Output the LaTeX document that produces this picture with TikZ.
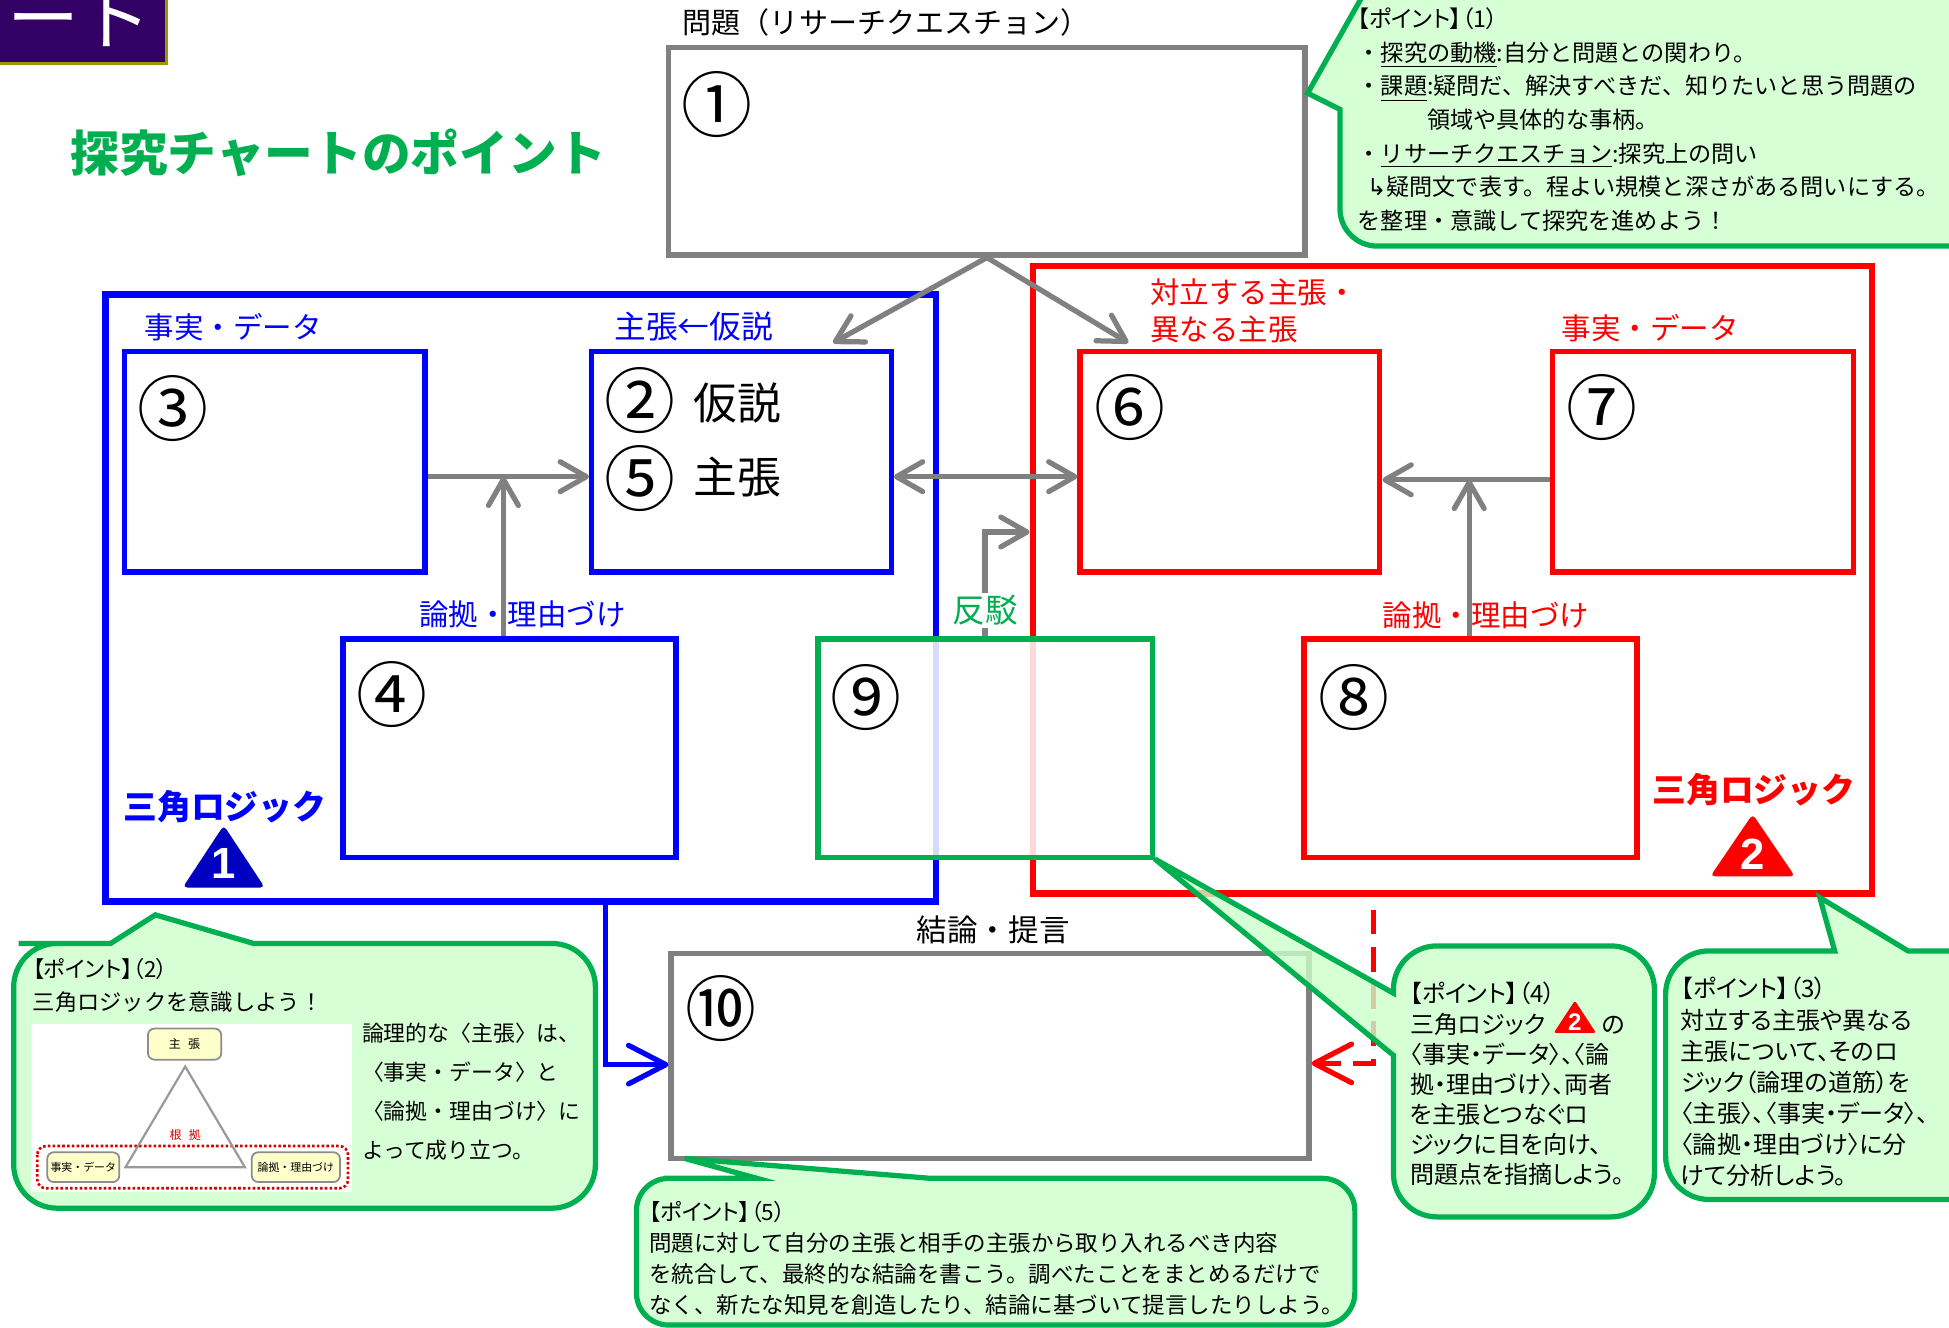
\documentclass[tikz,border=0pt]{standalone}
\usepackage{fontspec}
\setmainfont{Noto Sans CJK JP}
\newfontfamily\jpp[RawFeature=+palt]{Noto Sans CJK JP}
\newfontfamily\symf{DejaVu Sans}
\newfontfamily\arial{Liberation Sans}
\usetikzlibrary{arrows.meta,fit}

\definecolor{cgreen}{HTML}{00B050}
\definecolor{clight}{HTML}{CCFFCC}
\definecolor{cgray}{HTML}{808080}
\definecolor{cblue}{HTML}{0000FF}
\definecolor{cnavy}{HTML}{0000C0}
\definecolor{cred}{HTML}{FF0000}
\definecolor{cpurple}{HTML}{330066}
\definecolor{colive}{HTML}{999900}
\definecolor{cyellow}{HTML}{FFFFCC}

\newcommand\pt[1]{{\jpp 【ポイント】（#1）}}

\begin{document}
\begin{tikzpicture}[x=0.02cm,y=-0.02cm,
    box/.style={draw=#1,line width=2.5pt,inner sep=0pt},
    group/.style={draw=#1,line width=3.1pt,inner sep=0pt},
    num/.style={font=\fontsize{32.5}{33}\selectfont,inner sep=0pt},
    lbl/.style={font=\fontsize{13.5}{17}\selectfont,inner sep=0pt},
    logic/.style={font=\bfseries\fontsize{15.5}{18}\selectfont,inner sep=0pt},
    trinum/.style={font=\arial\bfseries\fontsize{#1}{#1}\selectfont,text=white,inner sep=0pt},
    garr/.style={draw=cgray,line width=2.4pt,-{Straight Barb[length=0.42cm,width=0.48cm,round]}},
    gdbl/.style={draw=cgray,line width=2.4pt,{Straight Barb[length=0.42cm,width=0.48cm,round]}-{Straight Barb[length=0.42cm,width=0.48cm,round]}},
    barr/.style={draw=cblue,line width=2.4pt,-{Straight Barb[length=0.6cm,width=0.62cm,round]}},
    rarr/.style={draw=cred,line width=2.4pt,dash pattern=on 0.4cm off 0.2cm,-{Straight Barb[length=0.6cm,width=0.62cm,round]}},
    bubble/.style={draw=cgreen,line width=2.4pt,fill=clight,fill opacity=0.8},
    note/.style={font=\fontsize{10.2}{#1}\selectfont,align=left,inner sep=0pt,anchor=north west},
    pnote/.style={font=\jpp\fontsize{11}{#1}\selectfont,align=left,inner sep=0pt,anchor=north west},
    inbox/.style={draw=black!45,fill=cyellow,rounded corners=3pt,line width=0.8pt,inner sep=1pt,font=\fontsize{5}{6}\selectfont}]
  \useasboundingbox (0,0) rectangle (1568,1068);
  \fill[white] (0,0) rectangle (1568,1068);

  % heading
  \node[fill=cpurple,draw=colive,line width=1.7pt,inner sep=0pt,fit={(-20,-20)(134,51)}] (tab) {};
  \node[text=white,font=\fontsize{33}{33}\selectfont,anchor=base west,inner sep=0pt] (tabTxt) at (6,36) {ート};
  \node[text=cgreen,font=\bfseries\fontsize{22.3}{26}\selectfont] (title) at (272,123) {探究チャートのポイント};

  % frames
  \node[box=cgray,fit={(538,38)(1050,205)}] (q) {};
  \node[group=cblue,fit={(85,237)(753,725)}] (grpA) {};
  \node[group=cred,fit={(831,214)(1506,719)}] (grpB) {};
  \node[box=cblue,fit={(100,283)(342,460)}] (dataA) {};
  \node[box=cblue,fit={(476,283)(717,460)}] (claimA) {};
  \node[box=cblue,fit={(276,514)(544,690)}] (warrA) {};
  \node[box=cred,fit={(869,283)(1110,460)}] (claimB) {};
  \node[box=cred,fit={(1249,283)(1491,460)}] (dataB) {};
  \node[box=cred,fit={(1049,514)(1317,690)}] (warrB) {};
  \node[box=cgreen,fill=white,fill opacity=0.85,fit={(658,514)(927,690)}] (rebut) {};
  \node[box=cgray,fit={(540,767)(1053,932)}] (concl) {};

  % numbers
  \node[num] (n1) at (577,84) {①};
  \node[num] (n2) at (515,322) {②};
  \node[num] (n3) at (139,329) {③};
  \node[num] (n4) at (315,559) {④};
  \node[num] (n5) at (515,385) {⑤};
  \node[num] (n6) at (909,328) {⑥};
  \node[num] (n7) at (1289,328) {⑦};
  \node[num] (n8) at (1089,561) {⑧};
  \node[num] (n9) at (697,561) {⑨};
  \node[num] (n10) at (580,811) {⑩};
  \node[font=\fontsize{20}{20}\selectfont,inner sep=0pt] (hyp) at (593,324) {仮説};
  \node[font=\fontsize{20}{20}\selectfont,inner sep=0pt] (clm) at (593,384) {主張};

  % labels
  \node[lbl,font=\fontsize{13.3}{16}\selectfont,anchor=west] (qLbl) at (549,18) {問題（リサーチクエスチョン）};
  \node[lbl,text=cblue,anchor=west] (dataALbl) at (116,263) {事実・データ};
  \node[lbl,text=cblue,font=\fontsize{14.5}{17}\selectfont,anchor=west] (claimALbl) at (494,263) {主張←仮説};
  \node[lbl,text=cblue,anchor=west] (warrALbl) at (337,494) {論拠・理由づけ};
  \node[lbl,text=cred,anchor=north west,align=left] (claimBLbl) at (925,224) {対立する主張・\\異なる主張};
  \node[lbl,text=cred,anchor=west] (dataBLbl) at (1256,264) {事実・データ};
  \node[lbl,text=cred,anchor=west] (warrBLbl) at (1112,495) {論拠・理由づけ};
  \node[lbl,font=\fontsize{14}{16}\selectfont] (conclLbl) at (799,748) {結論・提言};
  \node[logic,text=cblue] (logicA) at (181,649) {三角ロジック};
  \node[logic,text=cred] (logicB) at (1411,635) {三角ロジック};
  \fill[cnavy,rounded corners=2pt] (147,714) -- (180,664) -- (213,714) -- cycle;
  \node[trinum=20] (triA) at (180,695) {1};
  \fill[cred,rounded corners=2pt] (1376,705) -- (1410,655) -- (1444,705) -- cycle;
  \node[trinum=20] (triB) at (1410,687) {2};

  % connectors
  \coordinate (midA) at (405,383.5);
  \coordinate (midB) at (1182,386);
  \draw[garr] (q.south) -- ([xshift=-0.98cm,yshift=0.1cm]claimA.north east);
  \draw[garr] (q.south) -- ([xshift=0.82cm,yshift=0.1cm]claimB.north west);
  \draw[garr] (dataA.east |- midA) -- (claimA.west |- midA);
  \draw[garr] (warrA.north -| midA) -- (midA);
  \draw[gdbl] (claimA.east |- midA) -- (claimB.west |- midA);
  \draw[garr] (dataB.west |- midB) -- (claimB.east |- midB);
  \draw[garr] (warrB.north -| midB) -- (midB);
  \draw[garr] (rebut.north) |- (grpB.west |- 0,428);
  \node[lbl,font=\fontsize{15}{17}\selectfont,text=cgreen,fill=white,inner sep=1pt] (rebutLbl) at (793,491) {反駁};
  \draw[barr] ([xshift=1.36cm]grpA.south) |- ([yshift=-0.14cm]concl.west);
  \draw[rarr] ([xshift=-1.27cm,yshift=-0.2cm]grpB.south) |- ([yshift=-0.12cm]concl.east);

  % point bubbles
  \draw[bubble] (1300,198) [rounded corners=0.6cm] -- (1078,198) -- (1078,140) [sharp corners] -- (1078,88)
    -- (1052,75) -- (1100,-10) -- (1100,-40) -- (1620,-40) -- (1620,198) -- cycle;
  \draw[bubble] (240,972) [rounded corners=0.7cm] -- (11,972) -- (11,759) -- (50,759) [sharp corners] -- (89,759)
    -- (125,736) -- (204,759) -- (300,759) [rounded corners=0.7cm] -- (479,759) -- (479,972) -- cycle;
  \draw[bubble] (1340,870) [rounded corners=0.7cm] -- (1340,765) -- (1420,765) [sharp corners] -- (1476,765)
    -- (1464,722) -- (1535,765) -- (1580,765) -- (1620,765) -- (1620,965) [rounded corners=0.7cm] -- (1340,965) -- cycle;
  \draw[bubble] (1225,979) [rounded corners=0.7cm] -- (1121,979) -- (1121,900) [sharp corners] -- (1121,849)
    -- (929,691) -- (1121,799) -- (1121,798) [rounded corners=0.7cm] -- (1121,761) -- (1331,761) -- (1331,979) -- cycle;
  \draw[bubble] (800,1066) [rounded corners=0.52cm] -- (512,1066) -- (512,948) -- (560,948) [sharp corners] -- (609,948)
    -- (551,932) -- (749,948) -- (800,948) [rounded corners=0.52cm] -- (1090,948) -- (1090,1066) -- cycle;

  \node[note=15.4pt,font=\fontsize{10.6}{15.4}\selectfont] (p1) at (1092,6) {\pt{1}\\
    ・\underline{探究の動機}:自分と問題との関わり。\\
    ・\underline{課題}:疑問だ、解決すべきだ、知りたいと思う問題の\\
    \hspace*{3em}領域や具体的な事柄。\\
    ・\underline{リサーチクエスチョン}:探究上の問い\\
    \hspace*{0.4em}{\symf ↳}疑問文で表す。程よい規模と深さがある問いにする。\\
    を整理・意識して探究を進めよう！};

  \node[note=14.8pt] (p2) at (26,771) {\pt{2}\\三角ロジックを意識しよう！};
  \fill[white] (25,824) rectangle (283,959);
  \draw[cred!85!black,densely dotted,line width=1.2pt,rounded corners=4pt] (30,922) rectangle (280,956);
  \draw[black!40,line width=1pt] (149,858) -- (101,939) -- (197,939) -- cycle;
  \node[inbox,font=\fontsize{5.5}{6}\selectfont,minimum width=1.18cm,minimum height=0.5cm] (iClaim) at (148.5,840) {主\hspace{0.6em}張};
  \node[inbox,minimum width=1.16cm,minimum height=0.48cm] (iData) at (67,939) {事実・データ};
  \node[inbox,minimum width=1.42cm,minimum height=0.48cm] (iWarr) at (238,939) {論拠・理由づけ};
  \node[text=cred!85!black,font=\fontsize{5.5}{6}\selectfont,inner sep=0pt] (iGround) at (149,913) {根\hspace{0.6em}拠};
  \node[note=17.8pt,font=\fontsize{10}{17.8}\selectfont] (p2r) at (291,823) {論理的な〈主張〉は、\\〈事実・データ〉と\\〈論拠・理由づけ〉に\\よって成り立つ。};

  \node[pnote=14.2pt] (p3) at (1352,786) {\pt{3}\\対立する主張や異なる\\主張について、そのロ\\ジック（論理の道筋）を\\〈主張〉、〈事実・データ〉、\\〈論拠・理由づけ〉に分\\けて分析しよう。};

  \node[pnote=13.8pt] (p4) at (1134,790) {\pt{4}\\三角ロジック\hspace{2.35em}の\\〈事実・データ〉、〈論\\拠・理由づけ〉、両者\\を主張とつなぐロ\\ジックに目を向け、\\問題点を指摘しよう。};
  \fill[cred,rounded corners=1pt] (1250,831) -- (1267,805) -- (1284,831) -- cycle;
  \node[trinum=11] (triC) at (1267,822) {2};

  \node[note=14.2pt,font=\fontsize{10.3}{14.2}\selectfont] (p5) at (522,966) {\pt{5}\\
    問題に対して自分の主張と相手の主張から取り入れるべき内容\\
    を統合して、最終的な結論を書こう。調べたことをまとめるだけで\\
    なく、新たな知見を創造したり、結論に基づいて提言したりしよう。};
\end{tikzpicture}
\end{document}
